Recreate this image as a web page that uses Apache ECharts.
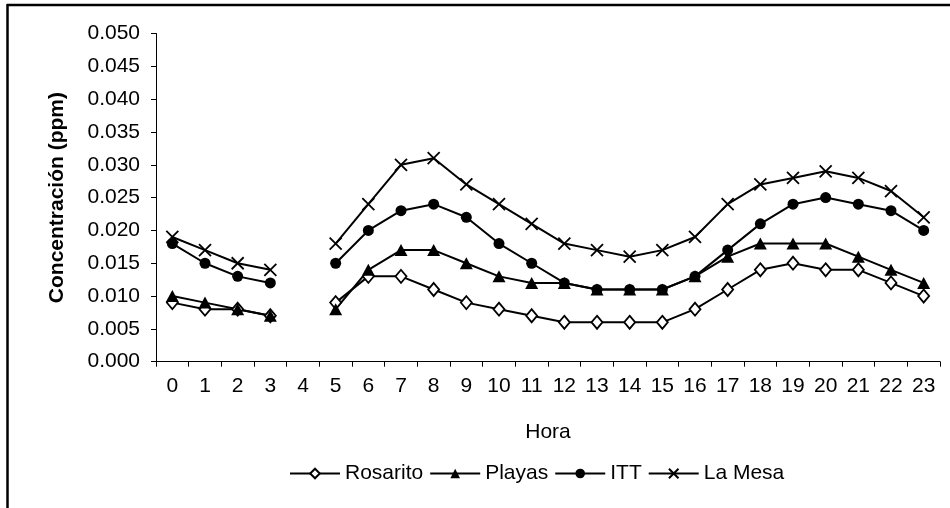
<!DOCTYPE html>
<html><head><meta charset="utf-8">
<script src="https://cdn.jsdelivr.net/npm/echarts@6/dist/echarts.min.js"></script>
<style>html,body{margin:0;padding:0;background:#fff}#c{width:950px;height:508px}</style>
</head><body><div id="c"></div>
<script>
const hours = ['0','1','2','3','4','5','6','7','8','9','10','11','12','13','14','15','16','17','18','19','20','21','22','23'];
const rosarito = [0.009,0.008,0.008,0.007,null,0.009,0.013,0.013,0.011,0.009,0.008,0.007,0.006,0.006,0.006,0.006,0.008,0.011,0.014,0.015,0.014,0.014,0.012,0.010];
const playas   = [0.010,0.009,0.008,0.007,null,0.008,0.014,0.017,0.017,0.015,0.013,0.012,0.012,0.011,0.011,0.011,0.013,0.016,0.018,0.018,0.018,0.016,0.014,0.012];
const itt      = [0.018,0.015,0.013,0.012,null,0.015,0.020,0.023,0.024,0.022,0.018,0.015,0.012,0.011,0.011,0.011,0.013,0.017,0.021,0.024,0.025,0.024,0.023,0.020];
const laMesa   = [0.019,0.017,0.015,0.014,null,0.018,0.024,0.030,0.031,0.027,0.024,0.021,0.018,0.017,0.016,0.017,0.019,0.024,0.027,0.028,0.029,0.028,0.026,0.022];
const seriesNames = ['Rosarito','Playas','ITT','La Mesa'];

const font = 'Liberation Sans, Arial, sans-serif';
const chart = echarts.init(document.getElementById('c'), null, {renderer:'canvas'});
function mk(name, data, symbol, size, fill, bw){
  return {
    name, type:'line', data, connectNulls:false,
    symbol, symbolSize:size, showSymbol:true,
    lineStyle:{color:'#000', width:2},
    itemStyle:{color:fill, borderColor:'#000', borderWidth:bw},
    emphasis:{disabled:true}, animation:false
  };
}
chart.setOption({
  animation:false,
  backgroundColor:'#fff',
  graphic:[
    {type:'line', shape:{x1:7, y1:5, x2:950, y2:5}, style:{stroke:'#000', lineWidth:2.5}},
    {type:'line', shape:{x1:7.5, y1:4, x2:7.5, y2:508}, style:{stroke:'#000', lineWidth:2.5}}
  ],
  grid:{left:156, right:10, top:33.5, bottom:146.3, containLabel:false},
  legend:{
    data:seriesNames, bottom:19, left:284, itemWidth:50, itemHeight:12, itemGap:6,
    textStyle:{fontFamily:font, fontSize:21, color:'#000'}
  },
  xAxis:{
    type:'category', data:hours, boundaryGap:true,
    name:'Hora', nameLocation:'middle', nameGap:60,
    nameTextStyle:{fontFamily:font, fontSize:21, color:'#000'},
    axisLine:{lineStyle:{color:'#000', width:1}},
    axisTick:{show:true, alignWithLabel:false, length:5, lineStyle:{color:'#000'}},
    axisLabel:{fontFamily:font, fontSize:21, color:'#000', margin:14, interval:0},
    splitLine:{show:false}
  },
  yAxis:{
    type:'value', min:0, max:0.05, interval:0.005,
    name:'Concentración (ppm)', nameLocation:'middle', nameGap:88,
    nameTextStyle:{fontFamily:font, fontSize:21, fontWeight:'bold', color:'#000'},
    axisLine:{show:true, lineStyle:{color:'#000', width:1}},
    axisTick:{show:true, length:5, lineStyle:{color:'#000'}},
    axisLabel:{fontFamily:font, fontSize:21, color:'#000', margin:16, formatter:v=>v.toFixed(3)},
    splitLine:{show:false}
  },
  series:[
    mk('Rosarito', rosarito, 'diamond', [11,13], '#fff', 1.8),
    mk('Playas', playas, 'triangle', [13,12], '#000', 0),
    mk('ITT', itt, 'circle', 11, '#000', 0),
    mk('La Mesa', laMesa, 'path://M0,0L10,10M10,0L0,10', 12, 'none', 1.8)
  ]
});
</script></body></html>
